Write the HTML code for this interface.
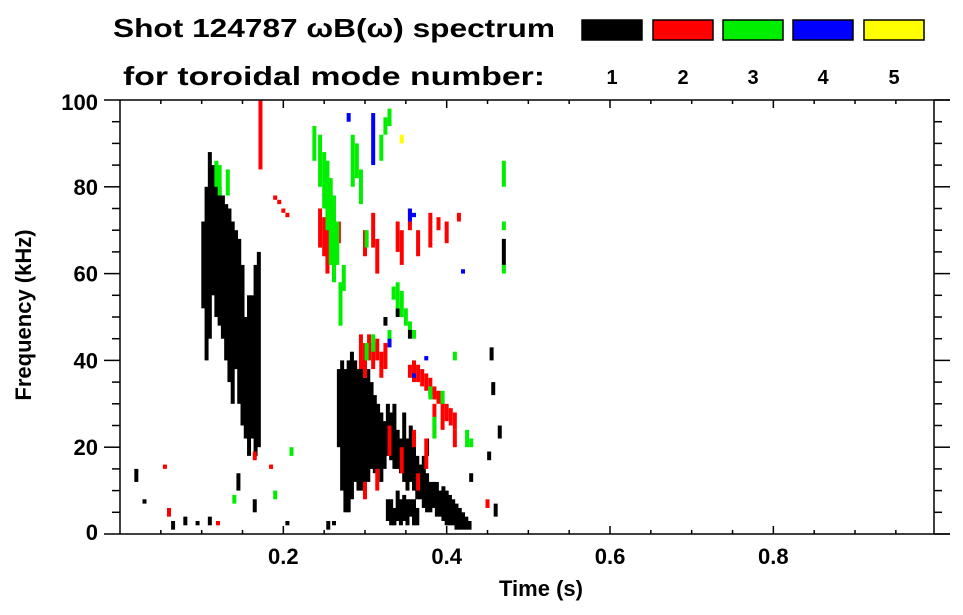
<!DOCTYPE html>
<html><head><meta charset="utf-8"><style>
html,body{margin:0;padding:0;background:#fff;}
svg{display:block;font-family:"Liberation Sans",sans-serif;font-weight:bold;}
</style></head><body>
<svg id="chart" width="963" height="615" viewBox="0 0 963 615">
<text x="113" y="37" font-size="26" textLength="442" lengthAdjust="spacingAndGlyphs">Shot 124787 ωB(ω) spectrum</text>
<text x="123" y="85" font-size="26" textLength="422" lengthAdjust="spacingAndGlyphs">for toroidal mode number:</text>
<g id="legend"></g>
<g id="marks"></g>
<g id="axes"></g>
<text x="541" y="596" font-size="22" text-anchor="middle">Time (s)</text>
<text transform="translate(31,315) rotate(-90)" font-size="22" text-anchor="middle">Frequency (kHz)</text>
</svg>
<script>
const modeColors = ["#000000","#ff0000","#00ee00","#0000ff","#ffff00"];
const modeLabels = ["1","2","3","4","5"];
const xTicks = [0.2,0.4,0.6,0.8];
const yTicks = [0,20,40,60,80,100];
// streaks: [time s, freq low kHz, freq high kHz]
const blackStreaks = [
[.102,52,72],[.106,40,80],[.110,45,88],[.114,55,85],[.118,50,82],[.122,48,80],[.126,45,78],[.130,40,76],[.134,35,75],[.138,30,72],[.142,38,70],[.146,30,68],[.150,25,62],[.154,22,50],[.158,18,55],[.162,22,55],[.166,18,62],[.170,20,65],
[.268,20,38],[.272,10,40],[.276,5,38],[.280,5,40],[.284,8,42],[.288,12,40],[.292,10,38],[.296,10,40],[.300,12,36],[.304,12,38],[.308,15,35],[.312,14,32],[.316,15,30],[.320,12,28],[.324,15,26],
[.328,18,30],[.328,3,8],[.332,17,28],[.332,2,8],[.336,15,30],[.336,2,6],[.340,15,24],[.340,3,10],[.344,14,22],[.344,2,8],[.348,12,28],[.348,3,9],[.352,10,22],[.352,2,8],[.356,12,25],[.356,4,8],[.360,10,22],[.360,2,8],
[.364,8,18],[.364,2,6],[.368,8,16],[.372,6,18],[.376,5,14],[.376,18,22],[.380,5,12],[.384,6,12],[.388,4,12],[.392,4,10],[.396,3,11],[.400,2,10],[.404,2,9],[.408,2,8],[.412,1,7],[.416,1,6],[.420,1,5],[.424,1,4],[.428,1,3],
[.065,1,3],[.08,2,4],[.095,2,3],[.11,2,4],[.205,2,3],[.255,1,3],[.262,2,3],[.325,48,50],[.355,45,47],[.34,50,52],[.43,12,14],[.455,40,43],[.465,22,25],[.457,32,35],[.452,17,19],[.145,10,14],[.165,5,8],[.02,12,15],[.03,7,8],[.47,62,68],[.46,4,7]
];
const redStreaks = [
[.172,84,100],[.19,77,78],[.195,76,77],[.2,74,75],[.205,73,74],[.245,66,75],[.250,64,73],[.254,60,72],[.258,62,70],[.262,64,68],[.268,67,72],
[.30,64,70],[.31,66,74],[.315,60,68],[.34,65,72],[.345,62,70],[.355,70,75],[.365,64,70],[.38,66,74],[.39,70,73],[.40,67,72],[.415,72,74],
[.295,38,46],[.30,36,44],[.305,40,46],[.31,38,44],[.315,40,45],[.32,36,42],[.325,38,44],
[.355,36,39],[.36,35,40],[.365,35,39],[.37,34,38],[.375,33,37],[.38,32,36],[.385,31,34],[.39,30,33],[.395,28,31],[.40,26,30],[.405,25,29],[.41,24,28],
[.33,18,25],[.345,14,20],[.36,20,24],[.375,15,22],[.385,22,30],[.395,24,28],[.41,20,24],[.30,8,12],[.315,10,15],[.365,10,14],[.06,4,6],[.12,2,3],[.055,15,16],[.45,6,8],[.165,17,19],[.185,15,16]
];
const greenStreaks = [
[.118,80,86],[.122,78,85],[.132,78,84],[.238,86,94],[.245,80,92],[.250,75,88],[.254,70,86],[.258,62,82],[.262,58,78],[.266,62,72],[.270,48,58],[.274,56,62],
[.285,80,92],[.29,82,90],[.295,76,84],[.302,66,70],[.32,86,92],[.325,92,96],[.33,94,98],[.335,54,57],[.34,52,58],[.345,50,56],[.35,48,52],[.355,47,49],[.36,45,47],
[.302,40,44],[.31,42,46],[.33,44,47],[.38,31,34],[.385,22,27],[.395,30,33],[.41,40,42],[.425,20,24],[.43,20,22],[.47,80,86],[.47,70,72],[.47,60,62],[.14,7,9],[.19,8,10],[.21,18,20]
];
const blueStreaks = [[.31,85,97],[.28,95,97],[.355,72,75],[.36,73,74],[.33,43,45],[.36,36,37],[.375,40,41],[.42,60,61]];
const yellowStreaks = [[.345,90,92]];

const X0=120,X1=934,Y0=534,Y1=100;
const xs=t=>X0+t*(X1-X0)/0.9967;
const ys=f=>Y0-f*(Y0-Y1)/100;
const NS="http://www.w3.org/2000/svg";
function mk(tag,at){const e=document.createElementNS(NS,tag);for(const k in at)e.setAttribute(k,at[k]);return e;}
const marks=document.getElementById('marks');
[[blackStreaks,0],[redStreaks,1],[greenStreaks,2],[blueStreaks,3],[yellowStreaks,4]].forEach(([arr,m])=>{
  arr.forEach(s=>{
    const r=mk('rect',{x:xs(s[0])-2,y:ys(s[2]),width:4,height:Math.max(1.5,ys(s[1])-ys(s[2])),fill:modeColors[m]});
    
    
    marks.appendChild(r);
  });
});
const legend=document.getElementById('legend');
const lx=[582,653,723,793,864];
modeColors.forEach((c,i)=>{
  const r=mk('rect',{x:lx[i],y:20,width:60,height:20,fill:c,stroke:'#000','stroke-width':1.5});
  
  
  legend.appendChild(r);
  const t=mk('text',{x:lx[i]+30,y:84,'font-size':20,'text-anchor':'middle'});
  t.textContent=modeLabels[i];
  
  
  legend.appendChild(t);
});
const axes=document.getElementById('axes');
const ln=(x1,y1,x2,y2)=>axes.appendChild(mk('line',{x1,y1,x2,y2,stroke:'#000','stroke-width':1.5}));
ln(X0,Y0,X1+16,Y0);ln(X0,Y1,X1+16,Y1);ln(X0,Y1,X0,Y0);ln(X1,Y1,X1,Y0);
for(let i=1;i<20;i++){const t=i*0.05;const x=xs(t);if(x>X1)break;const L=(i%4===0)?8:4;ln(x,Y0,x,Y0-L);ln(x,Y1,x,Y1+L);}
for(let i=0;i<=20;i++){const y=ys(i*5);const L=(i%4===0)?16:8;ln(X0-L,y,X0,y);ln(X1,y,X1+L,y);}
xTicks.forEach(v=>{const t=mk('text',{x:xs(v),y:564,'font-size':22,'text-anchor':'middle'});t.textContent=v.toFixed(1);
  
  
  axes.appendChild(t);});
yTicks.forEach(v=>{let y=ys(v)+8;if(v===0)y-=2;if(v===100)y+=2;const t=mk('text',{x:98,y:y,'font-size':22,'text-anchor':'end'});t.textContent=v;
  
  
  axes.appendChild(t);});
</script>
</body></html>
